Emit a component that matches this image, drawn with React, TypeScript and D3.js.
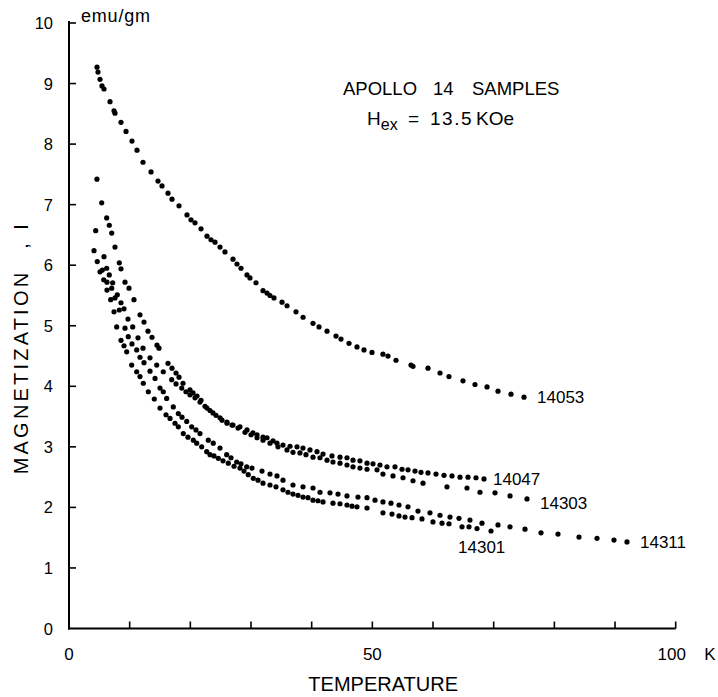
import React from "react";
import * as d3 from "d3";

// Temperature (K), magnetization (emu/gm) pairs
const s14053: [number, number][] = [
  [4.62, 9.27], [4.78, 9.19], [5.11, 9.07], [5.44, 8.96], [5.77, 8.91], [6.76, 8.7], [7.42, 8.55], [7.58, 8.51],
  [8.57, 8.36], [9.4, 8.21], [10.38, 8.05], [11.21, 7.9], [12.2, 7.7], [13.52, 7.54], [14.67, 7.39], [15.33, 7.31],
  [16.32, 7.19], [16.98, 7.09], [18.13, 6.98], [19.45, 6.83], [20.11, 6.75], [20.77, 6.7], [21.76, 6.6], [22.75, 6.48],
  [23.41, 6.42], [24.07, 6.38], [24.89, 6.3], [25.71, 6.22], [27.03, 6.1], [27.69, 6.02], [28.35, 5.95], [29.34, 5.84],
  [29.83, 5.79], [30.82, 5.71], [31.98, 5.58], [32.64, 5.54], [33.13, 5.5], [33.79, 5.46], [35.11, 5.39], [35.94, 5.33],
  [37.42, 5.23], [38.58, 5.14], [40.22, 5.04], [41.21, 4.98], [42.53, 4.91], [44.01, 4.83], [44.83, 4.78], [46.15, 4.71],
  [47.47, 4.65], [48.62, 4.6], [49.94, 4.56], [51.75, 4.53], [52.58, 4.5], [53.9, 4.43], [56.37, 4.35], [56.7, 4.33],
  [59.17, 4.3], [61.15, 4.22], [62.63, 4.16], [64.94, 4.09], [66.92, 4.03], [68.9, 3.99], [70.71, 3.92], [72.85, 3.87],
  [75.0, 3.82],
];

const s14047: [number, number][] = [
  [4.61, 7.42], [5.39, 7.03], [6.21, 6.78], [6.64, 6.66], [7.04, 6.53], [7.58, 6.3], [8.29, 6.04], [8.57, 5.94],
  [9.23, 5.72], [9.89, 5.62], [10.71, 5.43], [11.7, 5.18], [12.36, 5.06], [13.02, 4.91], [13.68, 4.81], [14.51, 4.68],
  [14.83, 4.63], [16.32, 4.38], [16.98, 4.3], [17.64, 4.22], [18.13, 4.15], [18.79, 4.05], [19.94, 3.94], [20.44, 3.89],
  [21.1, 3.84], [21.76, 3.77], [22.75, 3.64], [23.73, 3.56], [24.89, 3.48], [26.04, 3.41], [27.03, 3.36], [28.18, 3.33],
  [29.34, 3.28], [30.32, 3.23], [30.99, 3.2], [31.98, 3.16], [32.64, 3.15], [33.63, 3.1], [34.28, 3.06], [35.27, 3.03],
  [36.43, 3.01], [37.58, 3.0], [38.57, 2.98], [39.72, 2.95], [40.88, 2.92], [41.87, 2.88], [43.35, 2.85], [44.67, 2.83],
  [45.82, 2.82], [46.81, 2.78], [47.96, 2.77], [49.12, 2.73], [50.11, 2.72], [51.26, 2.7], [52.41, 2.67], [53.73, 2.67],
  [54.89, 2.63], [55.88, 2.62], [57.03, 2.6], [58.02, 2.58], [59.17, 2.57], [60.49, 2.55], [61.81, 2.53], [63.13, 2.52],
  [64.45, 2.5], [65.77, 2.5], [67.08, 2.49], [68.4, 2.47],
];

const s14303: [number, number][] = [
  [4.4, 6.57], [5.77, 6.14], [6.21, 5.95], [6.64, 5.84], [7.2, 5.71], [7.96, 5.51], [8.57, 5.38], [9.07, 5.28],
  [9.72, 5.11], [10.5, 4.98], [11.37, 4.8], [12.2, 4.63], [13.35, 4.47], [14.46, 4.35], [15.54, 4.24], [16.93, 4.11],
  [17.64, 4.04], [18.58, 3.97], [19.28, 3.91], [19.94, 3.86], [20.77, 3.81], [21.59, 3.74], [22.42, 3.67], [23.24, 3.6],
  [24.23, 3.52], [25.22, 3.44], [26.04, 3.39], [26.87, 3.36], [27.86, 3.31], [29.01, 3.24], [30.0, 3.2], [30.99, 3.15],
  [31.98, 3.11], [33.13, 3.06], [34.45, 3.0], [35.93, 2.95], [36.92, 2.91], [38.07, 2.9], [39.06, 2.87], [40.22, 2.83],
  [41.37, 2.82], [42.53, 2.78], [43.51, 2.75], [44.67, 2.73], [45.82, 2.7], [46.81, 2.67], [47.96, 2.65], [49.12, 2.63],
  [50.77, 2.62], [51.75, 2.55], [53.4, 2.52], [55.05, 2.49], [56.7, 2.44], [58.35, 2.4], [62.3, 2.34], [65.6, 2.32],
  [67.74, 2.25], [70.22, 2.24], [72.69, 2.19], [75.49, 2.14],
];

const s14311: [number, number][] = [
  [4.12, 6.24], [5.49, 5.92], [6.26, 5.72], [7.04, 5.62], [7.58, 5.46], [8.29, 5.26], [9.23, 4.96], [9.77, 4.82],
  [10.38, 4.7], [11.16, 4.6], [11.7, 4.48], [12.36, 4.39], [13.35, 4.25], [14.18, 4.13], [15.0, 3.97], [15.54, 3.91],
  [16.1, 3.8], [17.19, 3.66], [18.02, 3.55], [18.63, 3.49], [19.4, 3.42], [20.22, 3.33], [20.93, 3.28], [21.59, 3.22],
  [22.96, 3.11], [23.78, 3.06], [24.89, 2.98], [25.99, 2.87], [26.7, 2.82], [27.64, 2.75], [28.35, 2.72], [29.29, 2.67],
  [30.16, 2.65], [31.81, 2.6], [33.13, 2.55], [34.28, 2.52], [35.27, 2.45], [36.92, 2.37], [38.57, 2.34], [40.22, 2.32],
  [41.37, 2.25], [43.02, 2.24], [44.34, 2.22], [45.82, 2.19], [47.63, 2.17], [49.12, 2.16], [50.44, 2.12], [51.75, 2.09],
  [53.07, 2.07], [54.39, 2.04], [55.88, 2.01], [57.52, 1.94], [59.5, 1.91], [61.15, 1.87], [62.8, 1.84], [64.28, 1.82],
  [66.09, 1.79], [68.07, 1.74], [70.71, 1.71], [72.69, 1.68], [75.16, 1.64], [77.8, 1.58], [80.6, 1.56], [84.06, 1.51],
  [87.03, 1.49], [89.83, 1.46], [91.97, 1.43],
];

const s14301: [number, number][] = [
  [4.66, 6.06], [5.11, 5.89], [5.72, 5.76], [6.26, 5.59], [6.87, 5.43], [7.42, 5.23], [7.86, 4.98], [8.57, 4.76],
  [9.07, 4.67], [9.51, 4.57], [10.33, 4.35], [11.16, 4.24], [11.7, 4.16], [12.25, 4.05], [13.07, 3.91], [14.06, 3.79],
  [15.0, 3.64], [15.99, 3.53], [16.65, 3.47], [17.47, 3.39], [18.02, 3.33], [18.84, 3.22], [19.61, 3.16], [20.49, 3.11],
  [21.05, 3.06], [21.87, 3.0], [22.7, 2.92], [23.24, 2.87], [23.9, 2.85], [24.61, 2.81], [25.38, 2.77], [26.26, 2.73],
  [27.2, 2.68], [28.18, 2.65], [28.84, 2.6], [29.55, 2.54], [30.38, 2.48], [31.15, 2.45], [31.98, 2.4], [33.13, 2.37],
  [34.12, 2.34], [35.27, 2.29], [36.1, 2.25], [36.92, 2.22], [37.75, 2.2], [38.57, 2.17], [39.39, 2.16], [40.22, 2.12],
  [41.04, 2.11], [41.87, 2.09], [43.51, 2.07], [44.67, 2.06], [45.82, 2.04], [46.65, 2.02], [47.47, 2.01], [49.12, 1.99],
  [51.75, 1.91], [53.24, 1.89], [54.39, 1.86], [55.38, 1.84], [56.54, 1.83], [58.18, 1.81], [59.99, 1.76], [61.48, 1.74],
  [62.63, 1.73], [64.78, 1.68], [65.93, 1.68], [67.25, 1.65], [69.56, 1.61],
];

const seriesNames = ["14053", "14047", "14303", "14311", "14301"];
const seriesData = [s14053, s14047, s14303, s14311, s14301];

const yTicks = [0, 1, 2, 3, 4, 5, 6, 7, 8, 9, 10];
const xTicks = [10, 20, 30, 40, 50, 60, 70, 80, 90, 100];
const xTickLabels = [0, 50, 100];

const FONT = "'Liberation Sans', Arial, sans-serif";

export default function App() {
  const W = 718, H = 697;
  const x = d3.scaleLinear().domain([0, 100]).range([69, 675.7]);
  const y = d3.scaleLinear().domain([0, 10]).range([628.5, 23]);

  // label offsets from the last point of each series (pixels)
  const labelOffsets: Record<string, [number, number]> = {
    "14053": [13, 6],
    "14047": [9, 6],
    "14303": [13, 10],
    "14311": [13, 6],
    "14301": [-33, 22],
  };

  return (
    <svg width={W} height={H} style={{ position: "absolute", left: 0, top: 0, background: "#fff" }}>
      {/* axes */}
      <line x1={x(0)} y1={y(0) + 1} x2={x(0)} y2={y(10) - 2} stroke="#000" strokeWidth={2} />
      <line x1={x(0) - 1} y1={y(0)} x2={x(100)} y2={y(0)} stroke="#000" strokeWidth={2} />
      {yTicks.slice(1).map((t) => (
        <line key={"yt" + t} x1={x(0)} x2={x(0) + 7} y1={y(t)} y2={y(t)} stroke="#000" strokeWidth={1.6} />
      ))}
      {xTicks.map((t) => (
        <line key={"xt" + t} x1={x(t)} x2={x(t)} y1={y(0)} y2={y(0) - 7} stroke="#000" strokeWidth={1.6} />
      ))}
      {yTicks.map((t) => (
        <text key={"yl" + t} x={53} y={y(t) + 6} textAnchor="end" fontFamily={FONT} fontSize={16.5} fill="#000">
          {t}
        </text>
      ))}
      {xTickLabels.map((t) => (
        <text key={"xl" + t} x={x(t) + (t === 100 ? -4 : 0)} y={660} textAnchor="middle" fontFamily={FONT} fontSize={17} fill="#000">
          {t}
        </text>
      ))}
      <text x={710} y={660} textAnchor="middle" fontFamily={FONT} fontSize={17} fill="#000">K</text>
      <text x={458} y={691} textAnchor="end" fontFamily={FONT} fontSize={20} fill="#000">TEMPERATURE</text>
      <text
        transform={`translate(28,372) rotate(-90)`}
        textAnchor="middle"
        fontFamily={FONT}
        fontSize={20}
        letterSpacing={3.2}
        fill="#000"
      >
        MAGNETIZATION
      </text>
      <text transform={`translate(28,246) rotate(-90)`} textAnchor="middle" fontFamily={FONT} fontSize={20} fill="#000">,</text>
      <text transform={`translate(28,227) rotate(-90)`} textAnchor="middle" fontFamily={FONT} fontSize={20} fill="#000">I</text>
      <text x={81} y={22} fontFamily={FONT} fontSize={18} letterSpacing={0.8} fill="#000">emu/gm</text>

      {/* title */}
      <text x={343} y={95} fontFamily={FONT} fontSize={18.5} fill="#000">APOLLO</text>
      <text x={433} y={95} fontFamily={FONT} fontSize={18.5} fill="#000">14</text>
      <text x={472} y={95} fontFamily={FONT} fontSize={18.5} fill="#000">SAMPLES</text>
      <text x={367} y={125} fontFamily={FONT} fontSize={19} fill="#000">
        H<tspan dy={5} fontSize={16}>ex</tspan>
      </text>
      <text x={408} y={125} fontFamily={FONT} fontSize={19} fill="#000">=</text>
      <text x={430} y={125} fontFamily={FONT} fontSize={19} letterSpacing={1.5} fill="#000">13.5</text>
      <text x={476} y={125} fontFamily={FONT} fontSize={19} fill="#000">KOe</text>

      {/* data */}
      {seriesData.map((s, i) => (
        <g key={seriesNames[i]}>
          {s.map((p, j) => (
            <circle key={j} cx={x(p[0])} cy={y(p[1])} r={2.6} fill="#000" />
          ))}
        </g>
      ))}
      {seriesData.map((s, i) => {
        const last = s[s.length - 1];
        const off = labelOffsets[seriesNames[i]];
        return (
          <text key={"lab" + i} x={x(last[0]) + off[0]} y={y(last[1]) + off[1]} fontFamily={FONT} fontSize={17} fill="#000">
            {seriesNames[i]}
          </text>
        );
      })}
    </svg>
  );
}
